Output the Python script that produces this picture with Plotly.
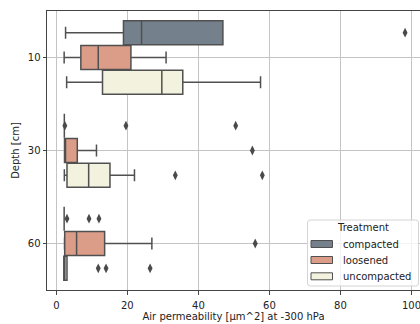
import plotly.graph_objects as go

depth_labels = ["10", "30", "60"]
treatments = ["compacted", "loosened", "uncompacted"]
colors = ["#74808C", "#DB9D88", "#F2F2DF"]

lowerfence = {"compacted": [2.6, 2.25, 2.2], "loosened": [2.2, 2.3, 2.3], "uncompacted": [2.9, 2.25, 2.1]}
q1 = {"compacted": [18.9, 2.25, 2.2], "loosened": [6.9, 2.3, 2.35], "uncompacted": [13.0, 3.0, 2.1]}
median = {"compacted": [24.0, 2.25, 2.2], "loosened": [11.8, 2.4, 5.7], "uncompacted": [29.7, 9.1, 2.4]}
q3 = {"compacted": [46.9, 2.25, 2.2], "loosened": [21.0, 5.9, 13.6], "uncompacted": [35.6, 15.1, 3.0]}
upperfence = {"compacted": [46.9, 2.25, 2.2], "loosened": [30.9, 11.3, 26.9], "uncompacted": [57.5, 22.0, 3.0]}
outliers = {
    "compacted": [[98.2], [2.4, 19.6, 50.5], [3.0, 9.2, 12.0]],
    "loosened": [[], [55.2], [56.0]],
    "uncompacted": [[], [33.5, 58.0], [11.8, 14.0, 26.4]],
}

edge = "#505050"
group_w = 0.8
n = len(treatments)
slot = group_w / n

W, H = 420, 324
ML, MR, MT, MB = 47, 0, 11, 34
PW, PH = W - ML - MR, H - MT - MB


def px(x):
    return (x - ML) / PW


def py(y):
    return (H - MB - y) / PH


fig = go.Figure()
for i, t in enumerate(treatments):
    off = (i - (n - 1) / 2) * slot
    pos = [k + off for k in range(len(depth_labels))]
    fig.add_trace(go.Box(
        name=t, orientation="h", y=pos,
        q1=q1[t], median=median[t], q3=q3[t],
        lowerfence=lowerfence[t], upperfence=upperfence[t],
        width=slot * 0.97, whiskerwidth=0.5,
        fillcolor=colors[i], line=dict(color=edge, width=1.5),
        hoverinfo="skip", showlegend=False,
    ))
    ox, oy = [], []
    for k, vals in enumerate(outliers[t]):
        for v in vals:
            ox.append(v)
            oy.append(k + off)
    fig.add_trace(go.Scatter(
        x=ox, y=oy, mode="markers", showlegend=False,
        marker=dict(symbol="diamond-tall", size=7, color="#4a4a4a"),
        hoverinfo="skip",
    ))

font = "DejaVu Sans"
txt = "#222"

# custom legend (matplotlib-style)
shapes = []
annotations = []
lx0, lx1, ly0, ly1 = 307.5, 418.5, 220, 286
r = 3
path = (f"M{px(lx0 + r)},{py(ly0)} L{px(lx1 - r)},{py(ly0)} Q{px(lx1)},{py(ly0)} {px(lx1)},{py(ly0 + r)} "
        f"L{px(lx1)},{py(ly1 - r)} Q{px(lx1)},{py(ly1)} {px(lx1 - r)},{py(ly1)} "
        f"L{px(lx0 + r)},{py(ly1)} Q{px(lx0)},{py(ly1)} {px(lx0)},{py(ly1 - r)} "
        f"L{px(lx0)},{py(ly0 + r)} Q{px(lx0)},{py(ly0)} {px(lx0 + r)},{py(ly0)} Z")
shapes.append(dict(type="path", xref="paper", yref="paper", path=path,
                   fillcolor="rgba(255,255,255,0.8)", line=dict(color="#d4d4d4", width=1), layer="above"))
annotations.append(dict(xref="paper", yref="paper", x=px((lx0 + lx1) / 2), y=py(227.5),
                        text="Treatment", showarrow=False, xanchor="center", yanchor="middle",
                        font=dict(family=font, size=10, color=txt)))
row_y = [244, 260, 276.3]
for i, t in enumerate(treatments):
    yc = row_y[i]
    shapes.append(dict(type="rect", xref="paper", yref="paper",
                       x0=px(311), x1=px(332.5), y0=py(yc - 3.5), y1=py(yc + 3.5),
                       fillcolor=colors[i], line=dict(color=edge, width=1), layer="above"))
    annotations.append(dict(xref="paper", yref="paper", x=px(341), y=py(yc),
                            text=t, showarrow=False, xanchor="left", yanchor="middle",
                            font=dict(family=font, size=10, color=txt)))

fig.update_layout(
    width=W, height=H,
    margin=dict(l=ML, r=MR, t=MT, b=MB),
    paper_bgcolor="white", plot_bgcolor="white",
    font=dict(family=font, size=10, color=txt),
    boxmode="overlay",
    showlegend=False,
    shapes=shapes, annotations=annotations,
    xaxis=dict(
        range=[-2.63, 102.4], tickvals=[0, 20, 40, 60, 80, 100],
        showgrid=True, gridcolor="#c4c4c4", gridwidth=0.8,
        showline=True, linecolor="#444", linewidth=1, mirror=True,
        ticks="outside", ticklen=3.5, tickcolor="#444",
        ticklabeloverflow="allow", ticklabelstandoff=2,
        zeroline=False, tickfont=dict(size=10),
        title=dict(text="Air permeability [μm^2] at -300 hPa", standoff=2, font=dict(size=10)),
    ),
    yaxis=dict(
        range=[2.5, -0.5], tickvals=list(range(len(depth_labels))), ticktext=depth_labels,
        showgrid=True, gridcolor="#c4c4c4", gridwidth=0.8,
        showline=True, linecolor="#444", linewidth=1,
        ticks="outside", ticklen=3.5, tickcolor="#444",
        zeroline=False, tickfont=dict(size=10),
        title=dict(text="Depth [cm]", standoff=6, font=dict(size=10)),
    ),
)

fig.write_html("out.html")
